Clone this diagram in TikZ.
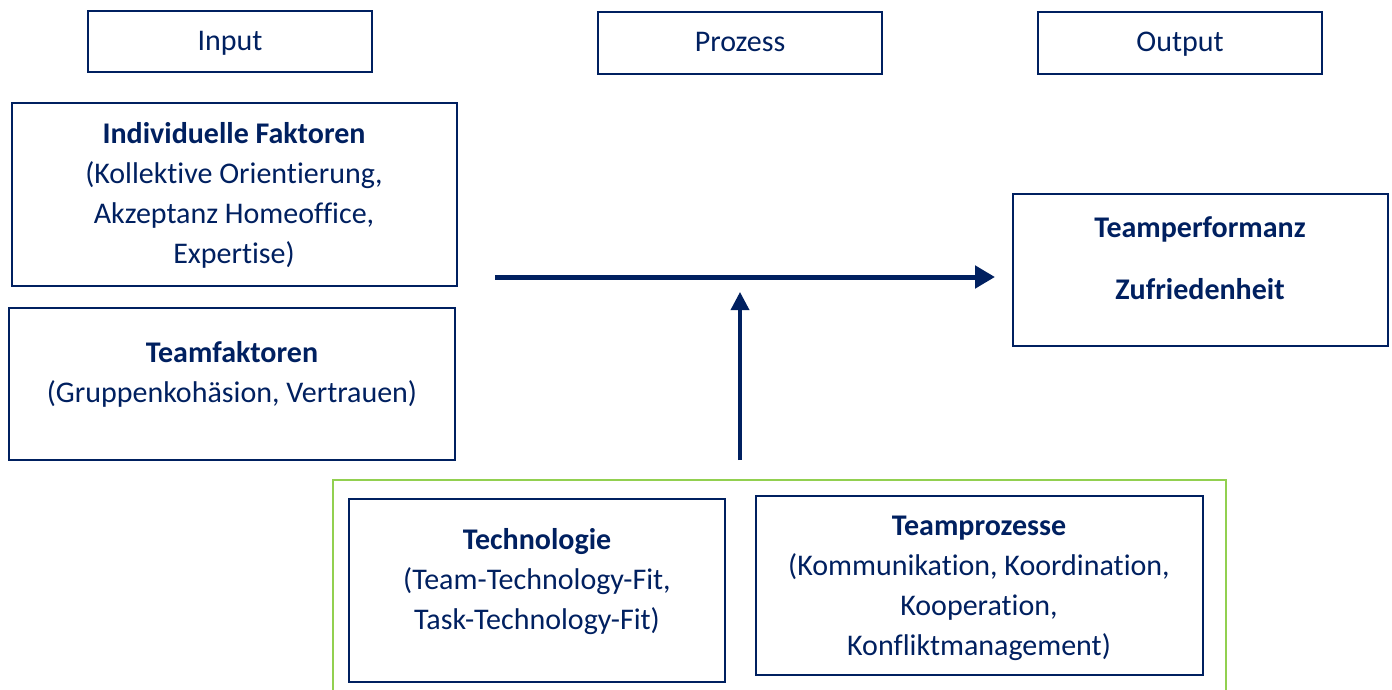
\documentclass[tikz,border=0pt]{standalone}
\usepackage{fontspec}
\setmainfont{Carlito}[Ligatures=NoCommon]
\usetikzlibrary{arrows.meta}
\definecolor{navy}{RGB}{0,32,96}
\definecolor{leaf}{RGB}{146,208,80}
\begin{document}
\begin{tikzpicture}[x=1pt,y=-1pt,
  box/.style={draw=navy,line width=2.4pt,inner sep=0pt},
  txt/.style={text=navy,align=center,font=\fontsize{30}{40}\selectfont,inner sep=0pt},
  head/.style={txt,anchor=base},
  flow/.style={draw=navy,line width=5pt,-{Triangle[length=20pt,width=22pt]}},
  infl/.style={draw=navy,line width=3.5pt,-{Triangle[length=18pt,width=18pt]}}]
\useasboundingbox[fill=white] (0,0) rectangle (1392,690);
% column headers
\node[box,minimum width=284pt,minimum height=61pt] (hin) at (230,41.5) {};
\node[head] (tin) at (230,51) {Input};
\node[box,minimum width=284pt,minimum height=62pt] (hpro) at (740,43) {};
\node[head] (tpro) at (740,52) {Prozess};
\node[box,minimum width=284pt,minimum height=62pt] (hout) at (1180,43) {};
\node[head] (tout) at (1180,52) {Output};
% input factors
\node[box,minimum width=445pt,minimum height=183pt] (indiv) at (234.5,194.5) {};
\node[txt] (tindiv) at (234,195) {\textbf{Individuelle Faktoren}\\(Kollektive Orientierung,\\Akzeptanz Homeoffice,\\Expertise)};
\node[box,minimum width=446pt,minimum height=152pt] (team) at (232,384) {};
\node[txt] (tteam) at (232,374.5) {\textbf{Teamfaktoren}\\(Gruppenkohäsion, Vertrauen)};
% output
\node[box,minimum width=375pt,minimum height=152pt] (outc) at (1200.5,270) {};
\node[txt,font=\fontsize{30}{62}\selectfont] (toutc) at (1200,258.5) {\textbf{Teamperformanz}\\\textbf{Zufriedenheit}};
% moderators
\node[draw=leaf,line width=2.4pt,inner sep=0pt,minimum width=893pt,minimum height=240pt] (mod) at (779.5,600) {};
\node[box,minimum width=376pt,minimum height=183pt] (tech) at (537,590.5) {};
\node[txt] (ttech) at (537,581.5) {\textbf{Technologie}\\(Team-Technology-Fit,\\Task-Technology-Fit)};
\node[box,minimum width=447pt,minimum height=179pt] (proc) at (979.5,585.5) {};
\node[txt] (tproc) at (979,588.5) {\textbf{Teamprozesse}\\(Kommunikation, Koordination,\\Kooperation,\\Konfliktmanagement)};
% arrows
\coordinate (fstart) at (495,277);
\coordinate (fend) at (995,277);
\coordinate (mstart) at (740,460);
\coordinate (mend) at (740,292);
\draw[flow] (fstart) -- (fend);
\draw[infl] (mstart) -- (mend);
\end{tikzpicture}
\end{document}
